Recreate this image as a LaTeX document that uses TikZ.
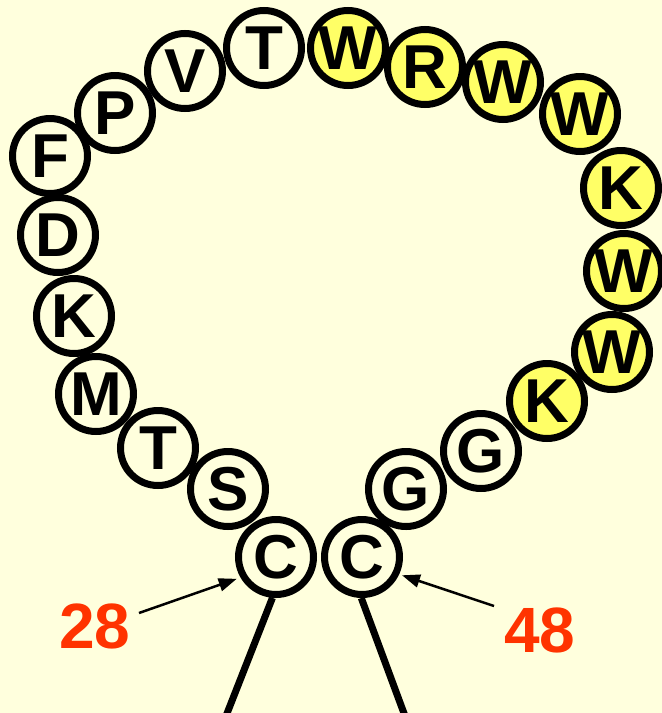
\documentclass[tikz,border=0pt]{standalone}
\usepackage{fontspec}
\setmainfont{Liberation Sans}
\usetikzlibrary{arrows.meta}
\definecolor{bg}{HTML}{FFFFDD}
\definecolor{hl}{HTML}{FFFF66}
\definecolor{lbl}{HTML}{FF3300}
\tikzset{
  res/.style={circle, draw=black, line width=7pt, minimum size=75pt, inner sep=0pt,
    font=\fontsize{62}{62}\selectfont\bfseries, fill=bg},
  hres/.style={res, fill=hl},
  num/.style={text=lbl, font=\fontsize{64}{64}\selectfont\bfseries},
  stem/.style={line width=7pt},
  pointer/.style={line width=2.5pt, -{Triangle[length=18pt,width=13pt]}},
}
\begin{document}
\begin{tikzpicture}[x=1pt,y=-1pt]
\fill[bg] (0,0) rectangle (662,713);
\useasboundingbox (0,0) rectangle (662,713);
\clip (0,0) rectangle (662,713);
% residues
\node[res] (c28) at (276,557) {C};
\node[res] (s)  at (228,489) {S};
\node[res] (t1) at (158,448) {T};
\node[res] (m)  at (96,394) {M};
\node[res] (k1) at (74,316) {K};
\node[res] (d)  at (58,235) {D};
\node[res] (f)  at (50,156) {F};
\node[res] (p)  at (115,113) {P};
\node[res] (v)  at (185,71) {V};
\node[res] (t2) at (264,48) {T};
\node[hres] (w1) at (348,48) {W};
\node[hres] (r)  at (425,67) {R};
\node[hres] (w2) at (503,82) {W};
\node[hres] (w3) at (580,114) {W};
\node[hres] (k2) at (621,188) {K};
\node[hres] (w4) at (624,271) {W};
\node[hres] (w5) at (612,352) {W};
\node[hres] (k3) at (547,401) {K};
\node[res] (g1) at (481,451) {G};
\node[res] (g2) at (406,489) {G};
\node[res] (c48) at (362,557) {C};
% stems
\coordinate (e28) at (226,716);
\coordinate (e48) at (405,716);
\draw[stem] (c28.-95) -- (e28);
\draw[stem] (c48.-91) -- (e48);
% labels
\node[num] (l28) at (95,626) {28};
\node[num] (l48) at (540,630) {48};
\coordinate (a28) at (139,613);
\coordinate (a48) at (494,606);
\draw[pointer, shorten >=4pt] (a28) -- (c28.-150);
\draw[pointer, shorten >=3pt] (a48) -- (c48.-25);
\end{tikzpicture}
\end{document}
